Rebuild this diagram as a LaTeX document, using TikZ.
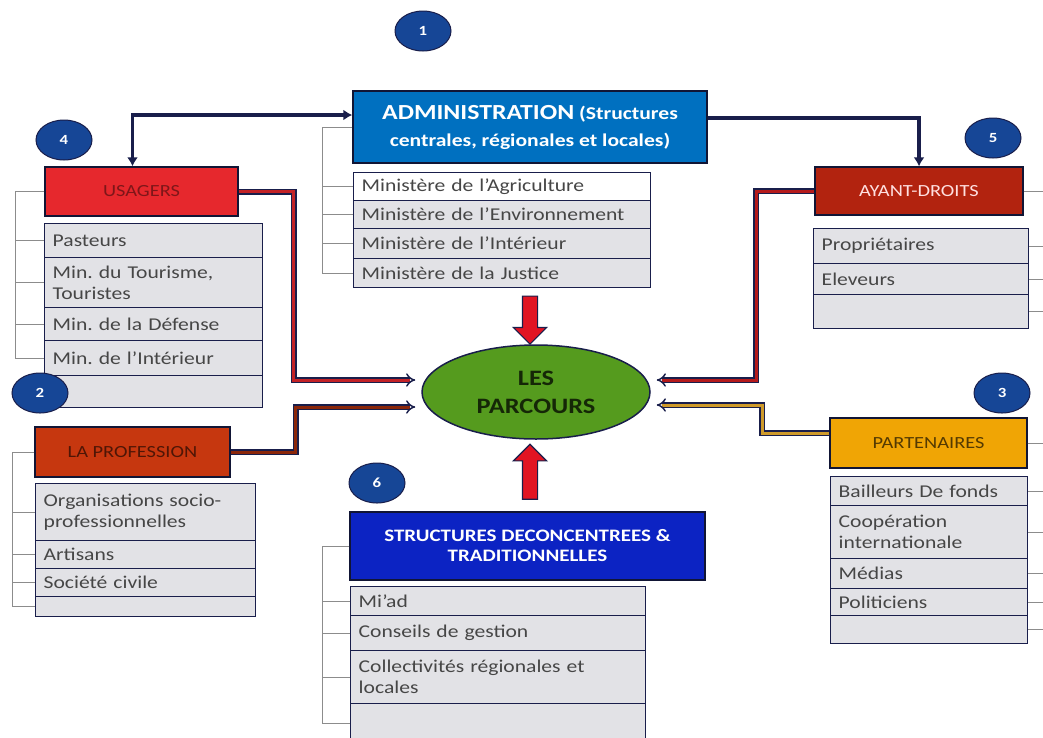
\documentclass[tikz,border=0pt]{standalone}
\usepackage{fontspec}
\setmainfont{Carlito}[FakeStretch=1.2]
\usetikzlibrary{arrows.meta,shapes.geometric,shapes.arrows}
\definecolor{navy}{RGB}{25,30,75}
\definecolor{admblue}{RGB}{0,112,192}
\definecolor{strblue}{RGB}{12,35,195}
\definecolor{usgred}{RGB}{230,40,45}
\definecolor{aydred}{RGB}{178,35,15}
\definecolor{prfred}{RGB}{198,55,15}
\definecolor{prtorange}{RGB}{240,165,5}
\definecolor{parcgreen}{RGB}{85,155,30}
\definecolor{listgray}{RGB}{226,226,230}
\definecolor{rowtext}{RGB}{70,70,70}
\definecolor{brkgray}{RGB}{140,140,140}
\definecolor{numblue}{RGB}{22,70,150}
\definecolor{arrred}{RGB}{225,20,35}

\begin{document}
\begin{tikzpicture}[x=1pt,y=-1pt,
  >={Latex[length=9pt,width=11pt]},
  hdr/.style={draw=navy!70!black, line width=1.3pt, inner sep=0pt, font=\fontsize{17}{20}\selectfont},
  row/.style={draw=navy, line width=1.4pt, fill=listgray, anchor=north west, inner xsep=8pt, inner ysep=0pt,
    text width=#1, align=left, text=rowtext, font=\fontsize{18}{21}\selectfont},
  num/.style={ellipse, draw=navy, line width=1pt, fill=numblue, minimum width=56pt, minimum height=40pt,
    inner sep=0pt, text=white, font=\fontsize{14}{16}\selectfont\bfseries},
  link/.style={draw=navy, line width=1.5pt, double=#1, double distance=3pt, -{Implies}},
  duo/.style={draw=navy, line width=3.5pt},
  brk/.style={draw=brkgray, line width=0.8pt},
  bigarrow/.style={single arrow, draw=navy, line width=1.2pt, fill=arrred, inner xsep=0pt, inner ysep=7pt,
    minimum height=48pt, single arrow head extend=9pt}]
\useasboundingbox (0,0) rectangle (1043,737);

\coordinate (spA) at (322,0);
\coordinate (spU) at (15,0);
\coordinate (spP) at (12,0);
\coordinate (spS) at (322,0);
\coordinate (spY) at (1050,0);
\coordinate (spT) at (1050,0);

\node[hdr, fill=admblue, minimum width=354pt, minimum height=72pt, align=center, text=white,
  font=\fontsize{18}{27}\selectfont\bfseries] (adm) at (530,127)
  {{\fontsize{21.5}{27}\selectfont ADMINISTRATION} (Structures\\centrales, régionales et locales)};
\node[row=281pt, minimum height=28pt, fill=white] (a1) at (353,172) {Ministère de l’Agriculture};
\node[row=281pt, minimum height=28pt] (a2) at (353,200) {Ministère de l’Environnement};
\node[row=281pt, minimum height=30pt] (a3) at (353,228) {Ministère de l’Intérieur};
\node[row=281pt, minimum height=29pt] (a4) at (353,258) {Ministère de la Justice};

\node[hdr, fill=usgred, minimum width=193pt, minimum height=49pt, text=usgred!55!black] (usg) at (141.5,191.5) {USAGERS};
\node[row=202pt, minimum height=34pt] (u1) at (44,223) {Pasteurs};
\node[row=202pt, minimum height=50pt] (u2) at (44,257) {Min.\ du Tourisme,\\Touristes};
\node[row=202pt, minimum height=33pt] (u3) at (44,307) {Min.\ de la Défense};
\node[row=202pt, minimum height=35pt] (u4) at (44,340) {Min.\ de l’Intérieur};
\node[row=202pt, minimum height=32pt] (u5) at (44,375) {};

\node[hdr, fill=prfred, minimum width=195pt, minimum height=50pt, text=prfred!40!black] (prf) at (132.5,452) {LA PROFESSION};
\node[row=204pt, minimum height=57pt] (p1) at (35,483) {Organisations socio-\\professionnelles};
\node[row=204pt, minimum height=28pt] (p2) at (35,540) {Artisans};
\node[row=204pt, minimum height=28pt] (p3) at (35,568) {Société civile};
\node[row=204pt, minimum height=20pt] (p4) at (35,596) {};

\node[hdr, fill=aydred, minimum width=208pt, minimum height=48pt, text=white!88!red] (ayd) at (919,191) {AYANT-DROITS};
\node[row=199pt, minimum height=35pt] (y1) at (813,228) {Propriétaires};
\node[row=199pt, minimum height=31pt] (y2) at (813,263) {Eleveurs};
\node[row=199pt, minimum height=34pt] (y3) at (813,294) {};

\node[hdr, fill=prtorange, minimum width=197pt, minimum height=50pt, text=prtorange!35!black] (prt) at (928.5,443) {PARTENAIRES};
\node[row=181pt, minimum height=29pt] (t1) at (830,476) {Bailleurs De fonds};
\node[row=181pt, minimum height=53pt] (t2) at (830,505) {Coopération\\internationale};
\node[row=181pt, minimum height=30pt] (t3) at (830,558) {Médias};
\node[row=181pt, minimum height=27pt] (t4) at (830,588) {Politiciens};
\node[row=181pt, minimum height=28pt] (t5) at (830,615) {};

\node[hdr, fill=strblue, minimum width=355pt, minimum height=68pt, align=center, text=white,
  font=\fontsize{17.5}{20}\selectfont\bfseries] (str) at (527.5,546) {STRUCTURES DECONCENTREES \&\\TRADITIONNELLES};
\node[row=279pt, minimum height=29pt] (s1) at (350,586) {Mi’ad};
\node[row=279pt, minimum height=35pt] (s2) at (350,615) {Conseils de gestion};
\node[row=279pt, minimum height=53pt] (s3) at (350,650) {Collectivités régionales et\\locales};
\node[row=279pt, minimum height=40pt] (s4) at (350,703) {};

\node[ellipse, draw=navy, line width=1.5pt, fill=parcgreen, minimum width=228pt, minimum height=94pt, align=center,
  text=parcgreen!25!black, font=\fontsize{22}{28}\selectfont\bfseries] (parc) at (536,392) {LES\\PARCOURS};

\foreach \r in {adm,a1,a2,a3,a4} \draw[brk] (\r.west) -- (\r.west -| spA);
\draw[brk] (adm.west -| spA) -- (a4.west -| spA);
\foreach \r in {usg,u1,u2,u3,u4} \draw[brk] (\r.west) -- (\r.west -| spU);
\draw[brk] (usg.west -| spU) -- (u4.west -| spU);
\foreach \r in {prf,p1,p2,p3,p4} \draw[brk] (\r.west) -- (\r.west -| spP);
\draw[brk] (prf.west -| spP) -- (p4.west -| spP);
\foreach \r in {str,s1,s2,s3,s4} \draw[brk] (\r.west) -- (\r.west -| spS);
\draw[brk] (str.west -| spS) -- (s4.west -| spS);
\foreach \r in {ayd,y1,y2,y3} \draw[brk] (\r.east) -- (\r.east -| spY);
\foreach \r in {prt,t1,t2,t3,t4,t5} \draw[brk] (\r.east) -- (\r.east -| spT);

\draw[duo, <->] ([yshift=12pt]adm.west) -| ([xshift=-9pt]usg.north);
\draw[duo, ->] ([yshift=9pt]adm.east) -| (ayd.north);

\draw[link=usgred!85!black] (usg.east) -- ++(55,0) |- ([xshift=-6pt,yshift=12pt]parc.west);
\draw[link=prfred!70!black] (prf.east) -- ++(65,0) |- ([xshift=-6pt,yshift=-15pt]parc.west);
\draw[link=aydred!75!purple] (ayd.west) -- ++(-58,0) |- ([xshift=6pt,yshift=12pt]parc.east);
\draw[link=prtorange!70!gray] ([yshift=10pt]prt.west) -- ++(-67,0) |- ([xshift=6pt,yshift=-13pt]parc.east);

\path ([xshift=-6pt]parc.north |- a4.south) -- node[bigarrow, rotate=-90] (ar1) {} ([xshift=-6pt]parc.north);
\path ([xshift=-6pt]parc.south |- str.north) -- node[bigarrow, minimum height=55pt, rotate=90] (ar2) {} ([xshift=-6pt]parc.south);

\node[num] (n1) at (423,31) {1};
\node[num] (n4) at (64,140) {4};
\node[num] (n5) at (993,138) {5};
\node[num] (n2) at (40,393) {2};
\node[num] (n3) at (1002,393) {3};
\node[num] (n6) at (377,483) {6};
\end{tikzpicture}
\end{document}
